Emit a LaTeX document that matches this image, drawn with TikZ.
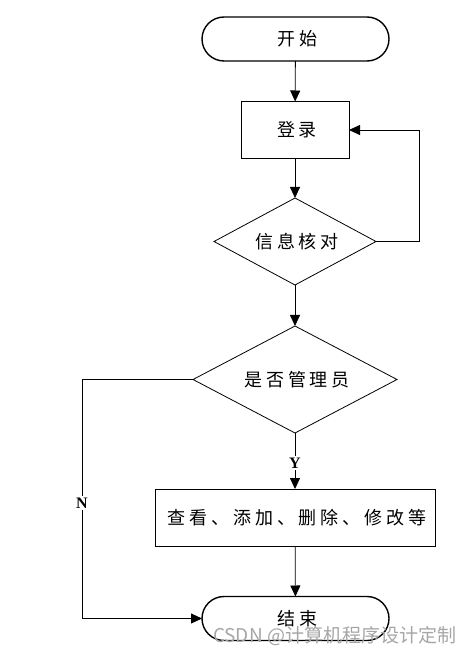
\documentclass[tikz,border=0pt]{standalone}
\usepackage{fontspec}
\setmainfont{Liberation Serif}
\newfontfamily\cjk[LetterSpace=22]{Noto Sans CJK SC}
\newfontfamily\wmfont{Noto Sans CJK SC}
\usetikzlibrary{shapes.geometric,arrows.meta}
\begin{document}
\begin{tikzpicture}[x=1pt,y=-1pt,
  line width=0.8pt,
  every node/.style={inner sep=0pt, outer sep=0pt},
  term/.style={draw, line width=1.4pt, rectangle, rounded corners=22pt, minimum width=187pt, minimum height=44pt, font=\cjk\fontsize{18}{21}\selectfont},
  proc/.style={draw, rectangle, font=\cjk\fontsize{18}{21}\selectfont},
  dec/.style={draw, diamond, font=\cjk\fontsize{18}{21}\selectfont},
  lbl/.style={font=\bfseries\fontsize{16}{18}\selectfont, fill=white, inner sep=2pt},
  arr/.style={-{Triangle[length=11pt,width=10pt]}}
]
\useasboundingbox (0,0) rectangle (470,655);
\node[term] (start) at (295.5,39) {\hspace{4pt}开始};
\node[proc, minimum width=108pt, minimum height=57pt] (login) at (295,130) {\hspace{4pt}登录};
\node[dec, shape aspect=1.86, minimum width=162pt, minimum height=87pt] (check) at (295,241.5) {\hspace{4pt}信息核对};
\node[dec, shape aspect=1.9, minimum width=204pt, minimum height=107pt] (admin) at (295,379.5) {\hspace{4pt}是否管理员};
\node[proc, minimum width=280pt, minimum height=57pt] (ops) at (295,517.5) {\hspace{4pt}查看、添加、删除、修改等};
\node[term] (end) at (295.5,618.5) {\hspace{4pt}结束};
\node[lbl] (Y) at (295,463) {Y};
\node[lbl] (N) at (82,503) {N};
\coordinate (rc) at (419,0);
\coordinate (lc) at (82,0);
\draw[arr] (start) -- (login);
\draw[arr] (login) -- (check);
\draw[arr] (check.east) -- (check.east -| rc) -- (login.east -| rc) -- (login.east);
\draw[arr] (check) -- (admin);
\draw (admin.south) -- (Y);
\draw[arr] (Y) -- (ops);
\draw[arr] (ops) -- (end);
\draw (admin.west) -- (admin.west -| lc) -- (N);
\draw[arr] (N) -- (N |- end) -- (end.west);
\node[anchor=east, text=black!35, font=\wmfont\fontsize{19}{21}\selectfont] (wm) at (456,636) {CSDN @计算机程序设计定制};
\end{tikzpicture}
\end{document}
